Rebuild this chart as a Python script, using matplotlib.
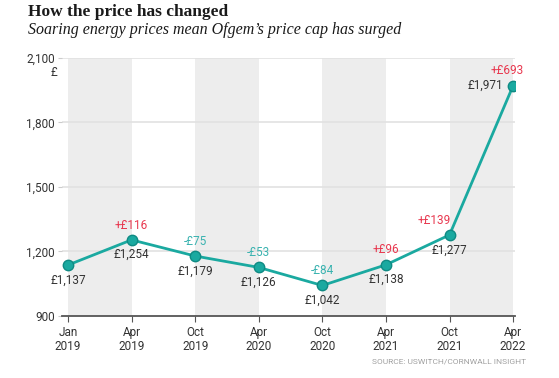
"""
plot.py - Ofgem price cap changes, Jan 2019 to Apr 2022.
"""

import matplotlib
matplotlib.use("Agg")
import matplotlib.pyplot as plt

months = ["Jan\n2019", "Apr\n2019", "Oct\n2019", "Apr\n2020", "Oct\n2020", "Apr\n2021", "Oct\n2021", "Apr\n2022"]
prices = [1137, 1254, 1179, 1126, 1042, 1138, 1277, 1971]
changes = [None, 116, -75, -53, -84, 96, 139, 693]
yticks = [900, 1200, 1500, 1800, 2100]

TEAL = "#1aa9a0"
RED = "#e8384f"
TEAL_TXT = "#3ab3b0"
DARK = "#333333"

plt.rcParams["font.family"] = ["Roboto", "DejaVu Sans"]

fig = plt.figure(figsize=(5.59, 3.78), dpi=100)
fig.patch.set_facecolor("white")
ax = fig.add_axes([62 / 559, 1 - 316 / 378, (515 - 62) / 559, (316 - 58) / 378])

xs = list(range(len(prices)))

# alternate grey bands
for i in range(0, len(xs), 2):
    ax.axvspan(xs[i], xs[i + 1], color="#ededed", zorder=0, lw=0)

for y in yticks[1:]:
    ax.axhline(y, color="#e2e2e2", lw=1.2, zorder=1)

ax.plot(xs, prices, color=TEAL, lw=2, zorder=3)
ax.plot(xs, prices, "o", ms=7.5, color=TEAL, mec="#0f8a83", mew=1, zorder=4)

last = len(prices) - 1
for i, (p, c) in enumerate(zip(prices, changes)):
    if i == last:
        ax.annotate(f"£{p:,}", (i, p), xytext=(-7, 0), textcoords="offset points",
                    ha="right", va="center", fontsize=8.5, color=DARK)
    else:
        ax.annotate(f"£{p:,}", (i, p), xytext=(0, -6), textcoords="offset points",
                    ha="center", va="top", fontsize=8.5, color=DARK)
    if c is None:
        continue
    label = f"+£{c}" if c > 0 else f"-£{abs(c)}"
    color = RED if c > 0 else TEAL_TXT
    if i == last:
        ax.annotate(label, (i, p), xytext=(-4, 6), textcoords="offset points",
                    ha="center", va="bottom", fontsize=8.5, color=color)
    elif i == last - 1:
        ax.annotate(label, (i, p), xytext=(1, 6), textcoords="offset points",
                    ha="right", va="bottom", fontsize=8.5, color=color)
    else:
        ax.annotate(label, (i, p), xytext=(0, 6), textcoords="offset points",
                    ha="center", va="bottom", fontsize=8.5, color=color)

ax.set_xlim(-0.094, 7.03)
ax.set_ylim(900, 2100)
ax.set_xticks(xs)
ax.set_xticklabels(months, fontsize=8.5, color=DARK, linespacing=1.1)
ax.set_yticks(yticks)
ax.set_yticklabels([f"{v:,}" for v in yticks], fontsize=8.5, color=DARK)
ax.tick_params(axis="x", length=4, color="#555555", pad=3)
ax.tick_params(axis="y", length=3, color="#cccccc", pad=2)
for s in ["top", "right", "left"]:
    ax.spines[s].set_visible(False)
ax.spines["bottom"].set_color("#555555")
ax.spines["bottom"].set_linewidth(1.3)
ax.spines["bottom"].set_zorder(5)

fig.text(57 / 559, 1 - 72 / 378, "£", ha="right", va="center", fontsize=8.5, color=DARK)

fig.text(28 / 559, 1 - 12 / 378, "How the price has changed", ha="left", va="center",
         fontsize=12.5, fontweight="bold", color="#1a1a1a", family="Liberation Serif")
fig.text(28 / 559, 1 - 30 / 378, "Soaring energy prices mean Ofgem\u2019s price cap has surged", ha="left",
         va="center", fontsize=11.5, style="italic", color="#1a1a1a", family="Liberation Serif")
fig.text(526 / 559, 1 - 362 / 378, "SOURCE: USWITCH/CORNWALL INSIGHT", ha="right", va="center",
         fontsize=6, color="#a0a0a0")

fig.savefig("out.png", dpi=100)
